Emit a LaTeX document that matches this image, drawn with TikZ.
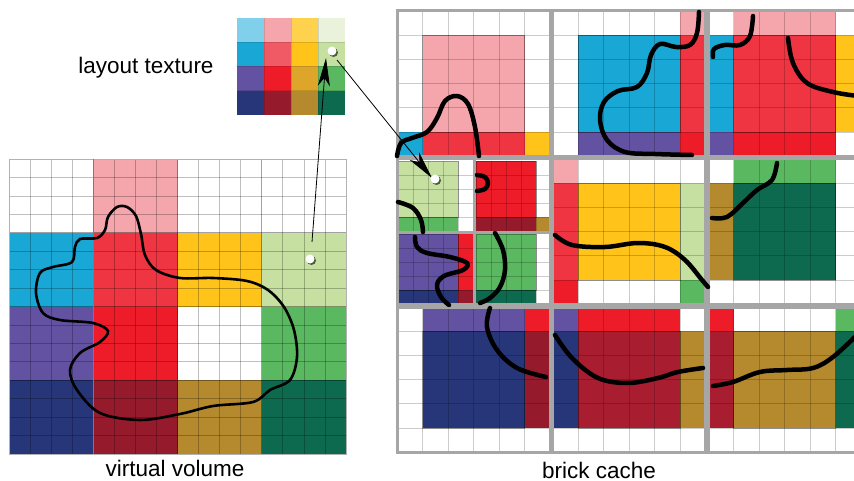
\documentclass[tikz,border=0pt]{standalone}
\usepackage{fontspec}
\setmainfont{Liberation Sans}
\usetikzlibrary{arrows.meta,shadows}
\definecolor{pinkL}{HTML}{F5A6AC}
\definecolor{cyanB}{HTML}{19A8D6}
\definecolor{redA}{HTML}{EF3542}
\definecolor{yellowB}{HTML}{FFC31A}
\definecolor{lgreen}{HTML}{C5E0A0}
\definecolor{purpleB}{HTML}{6351A1}
\definecolor{redB}{HTML}{ED1C28}
\definecolor{greenB}{HTML}{59B860}
\definecolor{navy}{HTML}{263679}
\definecolor{dred}{HTML}{951A2B}
\definecolor{dredB}{HTML}{A91D31}
\definecolor{olive}{HTML}{B58A2E}
\definecolor{dgreen}{HTML}{0E6A4E}
\definecolor{lcyan}{HTML}{80D0EC}
\definecolor{lyellow}{HTML}{FFD24D}
\definecolor{pgreen}{HTML}{EAF2DC}
\definecolor{coral}{HTML}{F05A64}
\definecolor{gold}{HTML}{DDA62A}
\definecolor{edgeor}{HTML}{C8642A}
\tikzset{
  gridl/.style={black, opacity=0.2, line width=0.7pt},
  blkl/.style={black, opacity=0.3, line width=0.8pt},
  tileb/.style={draw=black!35, line width=3pt},
  curve/.style={line width=4.5pt, line cap=round, line join=round},
  blob/.style={line width=2.6pt},
  ptr/.style={line width=0.8pt, -{Stealth[length=28pt, width=12pt, inset=8pt]}},
  dotn/.style={circle, fill=white, inner sep=0pt, minimum size=9pt,
    drop shadow={shadow xshift=1.5pt, shadow yshift=-1.5pt, opacity=0.6, fill=black}},
  lbl/.style={font=\fontsize{22.5}{27}\selectfont, anchor=base, inner sep=0pt},
}
\newcommand\bricktile[3]{%
  \begin{scope}[shift={(#1,#2)}, x=25.5pt, y=-24.2pt]
    \foreach \bc [count=\k from 0] in {#3} {
      \pgfmathtruncatemacro\rx{mod(\k,3)}
      \pgfmathtruncatemacro\ry{div(\k,3)}
      \pgfmathsetmacro\xa{\rx==0?0:(\rx==1?1:5)}
      \pgfmathsetmacro\xb{\rx==0?1:(\rx==1?5:6)}
      \pgfmathsetmacro\ya{\ry==0?0:(\ry==1?1:5)}
      \pgfmathsetmacro\yb{\ry==0?1:(\ry==1?5:6)}
      \fill[\bc] (\xa,\ya) rectangle (\xb,\yb);
    }
    \foreach \i in {1,...,5} {\draw[gridl] (\i,0) -- (\i,6); \draw[gridl] (0,\i) -- (6,\i);}
    \draw[blkl] (1,1) rectangle (5,5);
    \draw[tileb] (0,0) rectangle (6,6);
  \end{scope}}
\newcommand\subbrick[6]{%
  \begin{scope}[shift={(#1,#2)}, x=15pt, y=-14pt]
    \fill[#3] (0,0) rectangle (4,4);
    \fill[#4] (4,0) rectangle (5,4);
    \fill[#5] (0,4) rectangle (4,5);
    \fill[#6] (4,4) rectangle (5,5);
    \foreach \i in {1,...,4} {\draw[gridl] (\i,0) -- (\i,5); \draw[gridl] (0,\i) -- (5,\i);}
    \draw[blkl] (0,0) rectangle (4,4);
  \end{scope}}
\begin{document}
\begin{tikzpicture}[x=1pt, y=-1pt]
\useasboundingbox (0,0) rectangle (854,481);
\clip (0,0) rectangle (854,481);
\fill[white] (0,0) rectangle (854,481);

% ---------- virtual volume ----------
\begin{scope}[shift={(9,159)}, x=21.0625pt, y=-18.4375pt]
  \foreach \bc [count=\k from 0] in {white,pinkL,white,white,cyanB,redA,yellowB,lgreen,purpleB,redB,white,greenB,navy,dred,olive,dgreen} {
    \pgfmathtruncatemacro\rr{div(\k,4)}
    \pgfmathtruncatemacro\cc{mod(\k,4)}
    \fill[\bc] (4*\cc,4*\rr) rectangle (4*\cc+4,4*\rr+4);
  }
  \foreach \i in {1,...,15} {\draw[gridl, opacity=0.25] (\i,0) -- (\i,16); \draw[gridl, opacity=0.25] (0,\i) -- (16,\i);}
  \foreach \i in {4,8,12} {\draw[blkl, opacity=0.15] (\i,0) -- (\i,16); \draw[blkl, opacity=0.15] (0,\i) -- (16,\i);}
  \draw[black!30, line width=0.8pt] (0,0) rectangle (16,16);
  \draw[edgeor, line width=1pt] (4,0) -- (4,16);
\end{scope}
\draw[blob] plot[smooth cycle, tension=0.55] coordinates {
  (117,207) (127,207) (136,216) (141,234) (145,255) (156,270) (180,278) (213,278)
  (247,281) (268,290) (284,307) (294,330) (297,357) (290,380) (270,390) (253,402)
  (213,406) (180,414) (140,420) (100,413) (77,390) (70,370) (80,353) (100,342)
  (108,331) (93,323) (60,320) (43,313) (36,293) (40,273) (53,267) (72,262)
  (75,247) (80,239) (97,238) (105,230) (108,217)};

% ---------- layout texture ----------
\begin{scope}[shift={(237,18)}, x=27pt, y=-24.25pt]
  \foreach \bc [count=\k from 0] in {lcyan,pinkL,lyellow,pgreen,cyanB,coral,yellowB,lgreen,purpleB,redB,gold,greenB,navy,dred,olive,dgreen} {
    \pgfmathtruncatemacro\rr{div(\k,4)}
    \pgfmathtruncatemacro\cc{mod(\k,4)}
    \fill[\bc] (\cc,\rr) rectangle (\cc+1,\rr+1);
  }
  \foreach \i in {1,2,3} {\draw[gridl, opacity=0.12] (\i,0) -- (\i,4); \draw[gridl, opacity=0.12] (0,\i) -- (4,\i);}
\end{scope}

% ---------- brick cache ----------
\bricktile{397}{11}{white,white,white,white,pinkL,white,cyanB,redA,yellowB}
\bricktile{552.5}{11}{white,white,pinkL,white,cyanB,redA,white,purpleB,redB}
\bricktile{708}{11}{white,pinkL,white,cyanB,redA,yellowB,purpleB,redB,white}
\bricktile{552.5}{159}{pinkL,white,white,redA,yellowB,lgreen,redB,white,greenB}
\bricktile{708}{159}{white,greenB,white,olive,dgreen,white,white,white,white}
\bricktile{397}{307}{white,purpleB,redB,white,navy,dred,white,white,white}
\bricktile{552.5}{307}{purpleB,redB,white,navy,dredB,olive,white,white,white}
\bricktile{708}{307}{redB,white,greenB,dredB,olive,dgreen,white,white,white}
\fill[white] (397,159) rectangle (550,304.2);
\subbrick{398}{161}{lgreen}{white}{greenB}{white}
\subbrick{476}{161}{redB}{white}{dred}{olive}
\subbrick{398}{234}{purpleB}{redB}{navy}{dred}
\subbrick{476}{234}{greenB}{white}{dgreen}{white}
\draw[black!35, line width=2.2pt] (474.5,159) -- (474.5,304.2) (397,232.5) -- (550,232.5);
\draw[tileb] (397,159) rectangle (550,304.2);

% curves in brick cache
\draw[curve] plot[smooth, tension=0.6] coordinates {(397,156) (401,143) (412,138) (427,132) (437,118) (445,101) (457,96) (468,104) (475,127) (479,156)};
\draw[curve] plot[smooth, tension=0.6] coordinates {(699,12) (697,33) (690,45) (676,47) (660,44) (651,55) (647,73) (637,87) (618,91) (604,102) (600,120) (607,140) (625,152) (655,154) (692,155)};
\draw[curve] plot[smooth, tension=0.6] coordinates {(753,16) (750,36) (740,45) (725,45) (714,49) (713,57)};
\draw[curve] plot[smooth, tension=0.6] coordinates {(788,38) (793,63) (807,83) (833,92) (858,96)};
\draw[curve] plot[smooth, tension=0.6] coordinates {(477,175) (485,177) (488,183) (485,189) (477,191)};
\draw[curve] plot[smooth, tension=0.6] coordinates {(398,202) (413,208) (421,220) (423,232)};
\draw[curve] plot[smooth, tension=0.6] coordinates {(415,237) (417,247) (427,253) (450,257) (467,263) (463,270) (444,276) (437,285) (441,297) (449,305)};
\draw[curve] plot[smooth, tension=0.6] coordinates {(495,233) (503,250) (505,270) (500,287) (490,298) (480,303)};
\draw[curve] plot[smooth, tension=0.6] coordinates {(490,308) (487,327) (497,350) (517,368) (546,377)};
\draw[curve] plot[smooth, tension=0.6] coordinates {(555,235) (572,245) (605,247) (638,243) (665,247) (685,260) (702,280) (708,287)};
\draw[curve] plot[smooth, tension=0.6] coordinates {(777,163) (772,180) (757,190) (743,203) (727,217) (712,218)};
\draw[curve] plot[smooth, tension=0.6] coordinates {(555,335) (572,358) (598,378) (628,383) (658,378) (678,372) (703,368)};
\draw[curve] plot[smooth, tension=0.6] coordinates {(713,386) (733,382) (760,372) (787,370) (813,368) (833,357) (858,334)};

% ---------- pointers ----------
\coordinate (a1s) at (312,242);
\coordinate (a1e) at (326,58);
\coordinate (a2s) at (337,60);
\coordinate (a2e) at (432,178);
\draw[ptr] (a1s) -- (a1e);
\draw[ptr] (a2s) -- (a2e);
\node[dotn] (vdot) at (310,259) {};
\node[dotn] (tdot) at (332,51) {};
\node[dotn] (bdot) at (435,179) {};

% ---------- labels ----------
\node[lbl] (ltex) at (146,74) {layout texture};
\node[lbl] (lvv) at (175,476) {virtual volume};
\node[lbl] (lbc) at (599,478) {brick cache};
\end{tikzpicture}
\end{document}
